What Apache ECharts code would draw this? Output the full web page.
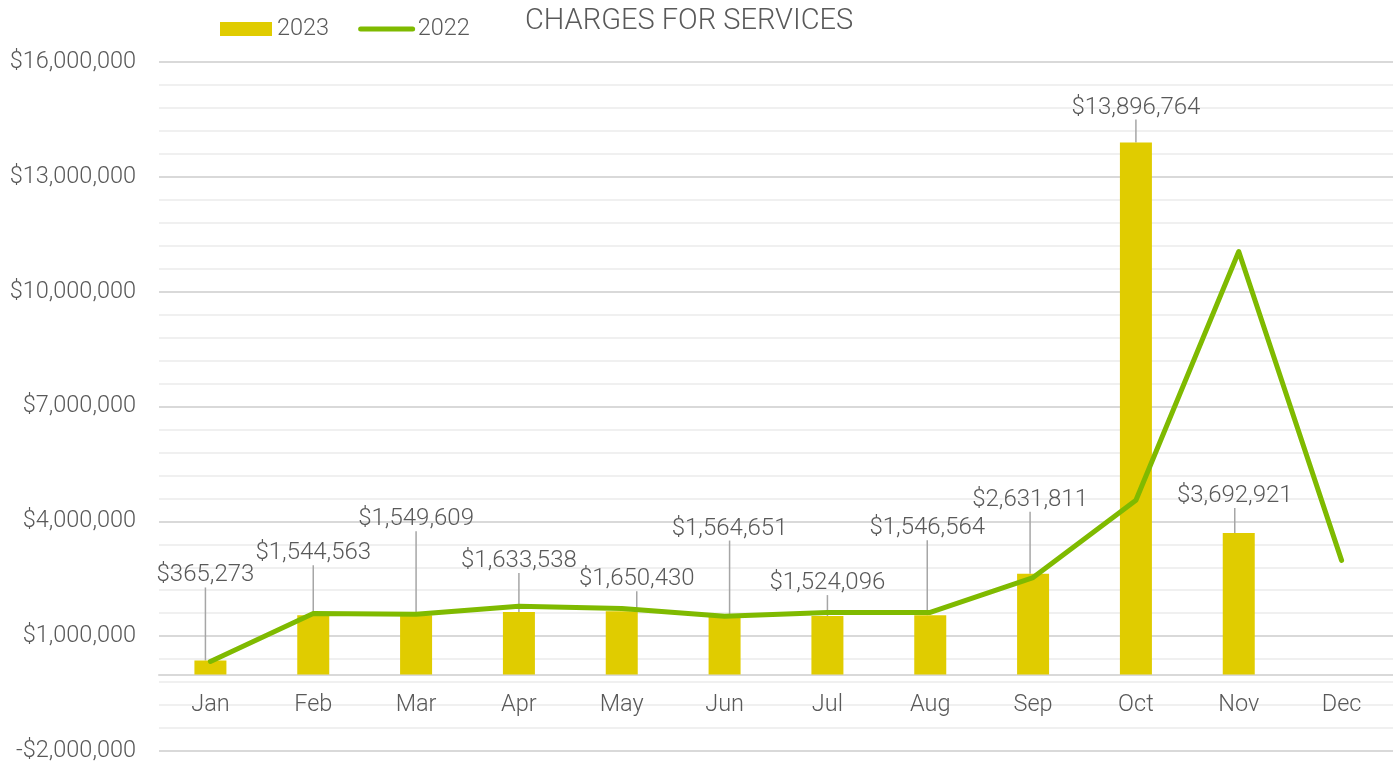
<!DOCTYPE html>
<html>
<head>
<meta charset="utf-8" />
<title>Charges for Services</title>
<script src="https://cdn.jsdelivr.net/npm/echarts@6/dist/echarts.min.js"></script>
<style>
  html, body { margin: 0; padding: 0; background: #fff; }
  #chart { width: 1393px; height: 763px; }
</style>
</head>
<body>
<div id="chart"></div>
<script>
// data
const months = ["Jan", "Feb", "Mar", "Apr", "May", "Jun", "Jul", "Aug", "Sep", "Oct", "Nov", "Dec"];
const charges2023 = [365273, 1544563, 1549609, 1633538, 1650430, 1564651, 1524096, 1546564, 2631811, 13896764, 3692921, null];
const charges2022 = [340000, 1590000, 1570000, 1780000, 1720000, 1520000, 1620000, 1620000, 2530000, 4550000, 11050000, 2980000];
const yTicks = { min: -2000000, max: 16000000, step: 3000000 };

// how far each data label is pushed away from its bar (px)
const labelShift = [[-5, -68], [0, -45], [0, -79], [0, -34], [15, -15], [5, -69], [0, -16], [-3, -70], [-3, -57], [0, -18], [-4, -20], [0, 0]];

const textColor = "#595959";
const fontFamily = "Roboto, 'Noto Sans', sans-serif";

function money(v) {
  const s = "$" + Math.abs(v).toLocaleString("en-US");
  return v < 0 ? "-" + s : s;
}

const myChart = echarts.init(document.getElementById("chart"));

const option = {
  animation: false,
  textStyle: { fontFamily: fontFamily },
  title: {
    text: "CHARGES FOR SERVICES",
    left: 520,
    top: 2,
    textStyle: { color: textColor, fontSize: 29, fontWeight: 300, fontFamily: fontFamily },
  },
  legend: {
    left: 215,
    top: 12,
    itemWidth: 52,
    itemHeight: 14,
    itemGap: 29,
    textStyle: { color: textColor, fontSize: 23.5, fontWeight: 300 },
    data: [
      { name: "2023", icon: "rect" },
      {
        name: "2022",
        itemStyle: { color: "rgba(0,0,0,0)", borderWidth: 0 },
        lineStyle: { color: "#7fba00", width: 5, cap: "round" },
      },
    ],
  },
  grid: { left: 159, right: 0, top: 62, bottom: 12, outerBoundsMode: "none" },
  xAxis: {
    type: "category",
    data: months,
    axisTick: { show: false },
    axisLine: { onZero: true, lineStyle: { color: "#d9d9d9", width: 2 } },
    // labels sit just under the zero line, inside the plot
    axisLabel: { color: textColor, fontSize: 23.5, fontWeight: 300, margin: -58 },
  },
  yAxis: {
    type: "value",
    min: yTicks.min,
    max: yTicks.max,
    interval: yTicks.step,
    axisLine: { show: false },
    axisTick: { show: false },
    axisLabel: {
      color: textColor,
      fontSize: 23.5,
      fontWeight: 300,
      margin: 23,
      formatter: money,
    },
    splitLine: { lineStyle: { color: "#d9d9d9", width: 2 } },
    minorTick: { show: false, splitNumber: 5 },
    minorSplitLine: { show: true, lineStyle: { color: "#f0f0f0", width: 2 } },
  },
  series: [
    {
      name: "2023",
      type: "bar",
      data: charges2023,
      barWidth: 32,
      itemStyle: { color: "#e0cc00" },
      label: {
        show: true,
        position: "top",
        distance: 5,
        color: textColor,
        fontSize: 24,
        fontWeight: 300,
        formatter: (p) => money(p.value),
      },
      labelLine: { show: true, lineStyle: { color: "#a6a6a6", width: 1.5 } },
      labelLayout: (p) => ({
        dx: labelShift[p.dataIndex][0],
        dy: labelShift[p.dataIndex][1],
      }),
      z: 2,
    },
    {
      name: "2022",
      type: "line",
      data: charges2022,
      symbol: "none",
      lineStyle: { color: "#7fba00", width: 5, cap: "round", join: "round" },
      itemStyle: { color: "#7fba00" },
      z: 3,
    },
  ],
};

myChart.setOption(option, true);
</script>
</body>
</html>
